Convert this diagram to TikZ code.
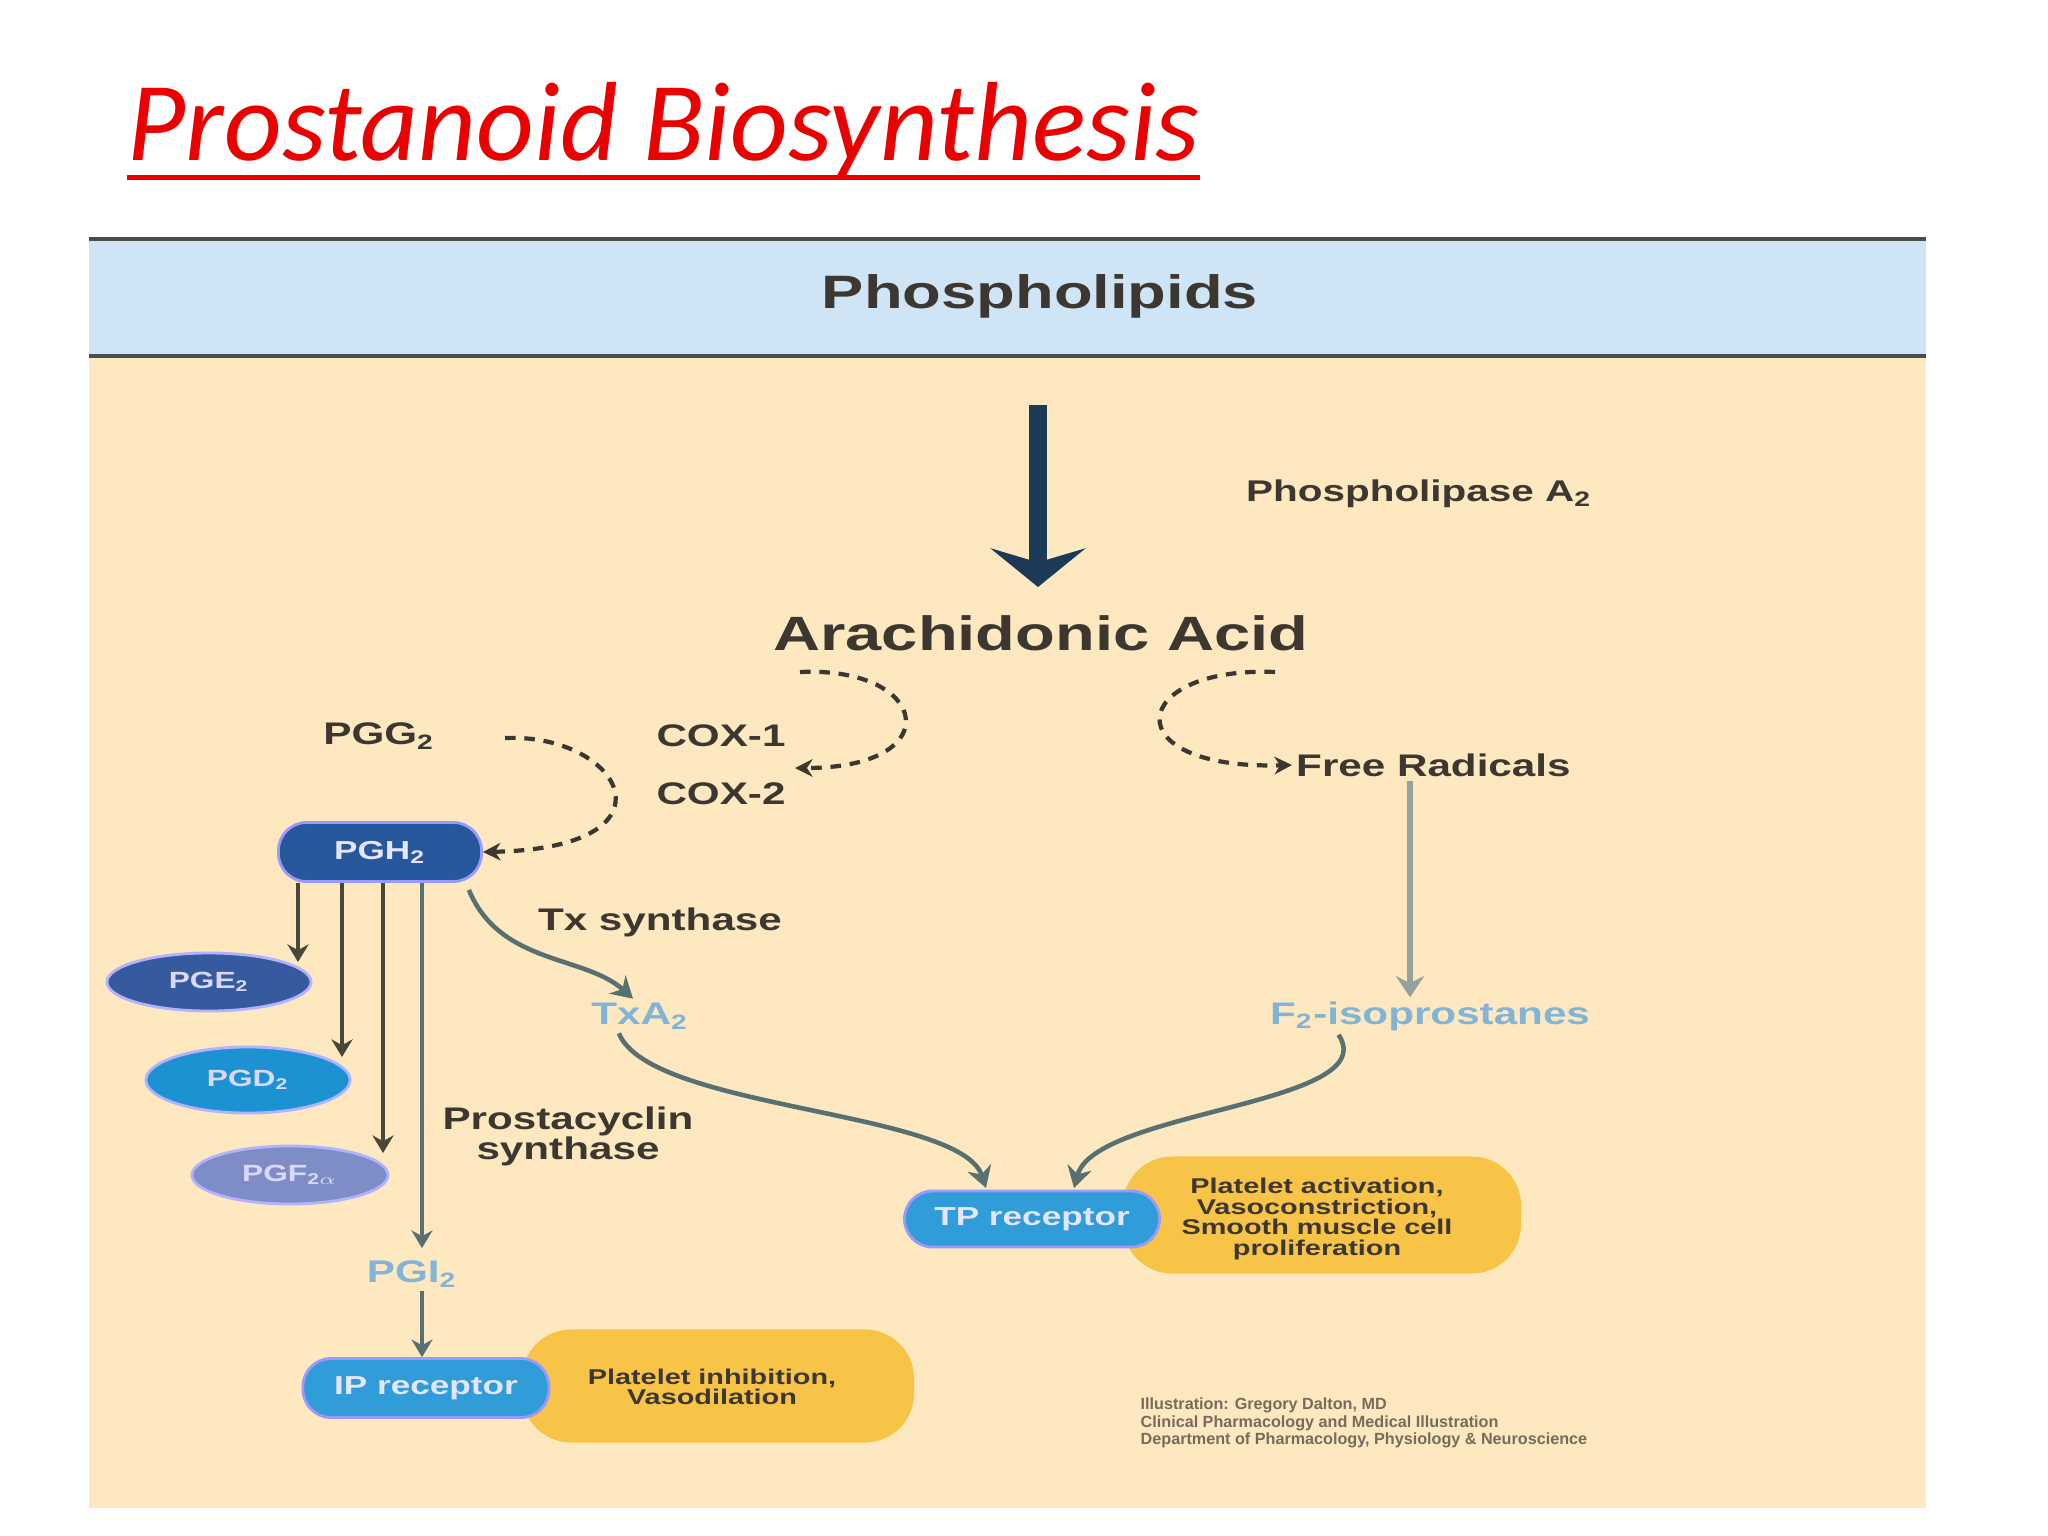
\documentclass[tikz,border=0pt]{standalone}
\usepackage{fontspec}
\usepackage{graphicx}
\setmainfont{Liberation Sans}
\newfontfamily\titlefont{Carlito}
\usetikzlibrary{arrows.meta,shapes.geometric}
\newcommand\sqz[1]{\scalebox{1}[0.74]{#1}}
\newcommand\sqzz[2][7.9pt]{\scalebox{1}[0.74]{\vbox{\baselineskip=#1\lineskiplimit=-\maxdimen\halign{\hfil##\hfil\cr#2\crcr}}}}
\definecolor{beige}{RGB}{253,232,192}
\definecolor{hdrblue}{RGB}{207,228,244}
\definecolor{hdrline}{RGB}{70,78,80}
\definecolor{lblc}{RGB}{60,55,48}
\definecolor{navy}{RGB}{28,58,86}
\definecolor{pghblue}{RGB}{40,88,156}
\definecolor{pgeblue}{RGB}{54,90,158}
\definecolor{pgdblue}{RGB}{28,146,210}
\definecolor{pgfblue}{RGB}{126,141,198}
\definecolor{recblue}{RGB}{48,156,216}
\definecolor{ybox}{RGB}{248,196,72}
\definecolor{paleblue}{RGB}{130,180,215}
\definecolor{linec}{RGB}{72,72,56}
\definecolor{curvec}{RGB}{88,112,112}
\definecolor{greyline}{RGB}{150,160,156}
\definecolor{titlered}{RGB}{235,0,0}
\begin{document}
\begin{tikzpicture}[x=0.01cm,y=-0.01cm,
  lbl/.style={font=\bfseries\fontsize{12}{14}\selectfont, text=lblc, inner sep=1pt},
  palelbl/.style={font=\bfseries\fontsize{12}{14}\selectfont, text=paleblue, inner sep=1pt},
  pillnode/.style={rounded corners=8pt, inner sep=0pt, text=white!90!blue,
     font=\bfseries\fontsize{10}{12}\selectfont, draw=white!60!blue, line width=0.8pt},
  ellnode/.style={ellipse, inner sep=0pt, text=white!85!blue,
     font=\bfseries\fontsize{9}{11}\selectfont, draw=white!70!blue, line width=0.8pt},
  effbox/.style={rounded corners=14pt, fill=ybox, inner sep=0pt},
  efftext/.style={font=\bfseries\fontsize{8.2}{8}\selectfont, text=lblc, inner sep=0pt},
  dasharc/.style={draw=lblc, line width=1.2pt, dash pattern=on 3pt off 2.5pt,
     -{Stealth[length=5pt,width=5pt]}},
  prodline/.style={draw=linec, line width=1.2pt, -{Stealth[length=5pt,width=6pt]}},
  curveline/.style={draw=curvec, line width=1.3pt, -{Stealth[length=6pt,width=7pt]}}
]
\useasboundingbox (0,0) rectangle (2048,1536);
\fill[white] (0,0) rectangle (2048,1536);

% title
\node[anchor=base west, inner sep=0pt, text=titlered,
      font=\titlefont\itshape\fontsize{32}{36}\selectfont] (title) at (127,160) {Prostanoid Biosynthesis};
\draw[titlered, line width=1.4pt] ([yshift=-5pt]title.base west) -- ([yshift=-5pt]title.base east);

% panel
\fill[beige] (89,238) rectangle (1926,1508);
\fill[hdrblue] (89,238) rectangle (1926,356);
\draw[hdrline, line width=1.2pt] (89,239) -- (1926,239);
\draw[hdrline, line width=1.2pt] (89,356) -- (1926,356);

\node[font=\bfseries\fontsize{18}{20}\selectfont, text=lblc] (phos) at (1040,296) {\sqz{Phospholipids}};

% phospholipase
\node[lbl, font=\bfseries\fontsize{11.5}{13}\selectfont] (pla) at (1419,494) {\sqz{Phospholipase A\textsubscript{2}}};

\node[font=\bfseries\fontsize{18.5}{22}\selectfont, text=lblc] (aa) at (1041,633) {\sqz{Arachidonic Acid}};

% big arrow
\coordinate (bigtop) at (1038,405);
\coordinate (bigbot) at (1038,587);
\draw[navy, line width=5.2pt, -{Stealth[length=11pt,width=27pt,inset=4pt]}] (bigtop) -- (bigbot);

% COX labels
\node[lbl] (pgg) at (379,736) {\sqz{PGG\textsubscript{2}}};
\node[lbl] (cox1) at (721,736) {\sqz{COX-1}};
\node[lbl] (cox2) at (721,794) {\sqz{COX-2}};

% PGH2
\node[pillnode, fill=pghblue, minimum width=2.03cm, minimum height=0.59cm] (pgh) at (380,852) {\sqz{PGH\textsubscript{2}}};

% dashed arcs
\coordinate (a1s) at (800,672);
\coordinate (a1e) at (795,768);
\draw[dasharc] (a1s) .. controls (930,666) and (950,768) .. (a1e);
\coordinate (a2s) at (505,738);
\draw[dasharc] (a2s) .. controls (622,733) and (685,848) .. (pgh.east);

\coordinate (a3s) at (1275,672);
\node[lbl, anchor=west] (free) at (1292,765) {\sqz{Free Radicals}};
\draw[dasharc] (a3s) .. controls (1128,666) and (1112,770) .. (free.west);

% products
\node[ellnode, fill=pgeblue, minimum width=2.04cm, minimum height=0.58cm] (pge) at (209,982) {\sqz{PGE\textsubscript{2}}};
\node[ellnode, fill=pgdblue, minimum width=2.04cm, minimum height=0.66cm] (pgd) at (248,1080) {\sqz{PGD\textsubscript{2}}};
\node[ellnode, fill=pgfblue, minimum width=1.96cm, minimum height=0.58cm] (pgf) at (290,1175) {\sqz{PGF\textsubscript{2\(\alpha\)}}};

\coordinate (e1) at (298,962);
\coordinate (e2) at (342,1057);
\coordinate (e3) at (383,1153);
\coordinate (e4) at (422,1248);
\draw[prodline] (pgh.south -| e1) -- (e1);
\draw[prodline] (pgh.south -| e2) -- (e2);
\draw[prodline] (pgh.south -| e3) -- (e3);
\draw[prodline, draw=curvec] (pgh.south -| e4) -- (e4);

\node[lbl] (pcs) at (568,1136) {\sqzz[11.5pt]{Prostacyclin\cr synthase}};
\node[palelbl] (pgi) at (412,1274) {\sqz{PGI\textsubscript{2}}};

% IP receptor and effects
\node[effbox, minimum width=3.92cm, minimum height=1.13cm] (ipeff) at (718,1386) {};
\node[efftext] (ipefftxt) at (712,1387) {\sqzz{Platelet inhibition,\cr Vasodilation}};
\node[pillnode, fill=recblue, minimum width=2.46cm, minimum height=0.59cm] (ip) at (426,1388) {\sqz{IP receptor}};
\draw[prodline, draw=curvec] (pgi.south -| e4) -- (ip.north -| e4);

% Tx branch
\node[lbl] (txs) at (660,922) {\sqz{Tx synthase}};
\node[palelbl] (txa) at (640,1016) {\sqz{TxA\textsubscript{2}}};
\draw[curveline] ([xshift=-4pt,yshift=-2pt]pgh.south east) .. controls (500,965) and (585,955) .. ([xshift=-2pt]txa.north);

% isoprostanes
\node[palelbl] (iso) at (1430,1016) {\sqz{F\textsubscript{2}-isoprostanes}};
\draw[greyline, line width=1.8pt, -{Stealth[length=6pt,width=8pt]}] (free.south -| 1410,0) -- (iso.north -| 1410,0);

% TP receptor and effects
\node[effbox, minimum width=3.98cm, minimum height=1.17cm] (tpeff) at (1322,1215) {};
\node[efftext] (tpefftxt) at (1317,1219) {\sqzz{Platelet activation,\cr Vasoconstriction,\cr Smooth muscle cell\cr proliferation}};
\node[pillnode, fill=recblue, minimum width=2.55cm, minimum height=0.56cm] (tp) at (1032,1219) {\sqz{TP receptor}};

\coordinate (tpin1) at (986,1188);
\coordinate (tpin2) at (1074,1188);
\draw[curveline] ([xshift=-6pt]txa.south) .. controls (650,1110) and (960,1110) .. (tpin1);
\draw[curveline] ([xshift=-26pt]iso.south) .. controls (1385,1105) and (1095,1110) .. (tpin2);

% credit
\node[anchor=west, align=left, text=lblc!70!beige, inner sep=0pt,
      font=\bfseries\fontsize{4.6}{5}\selectfont] (credit) at (1140,1423)
  {Illustration: Gregory Dalton, MD\\Clinical Pharmacology and Medical Illustration\\Department of Pharmacology, Physiology \& Neuroscience};
\end{tikzpicture}
\end{document}
